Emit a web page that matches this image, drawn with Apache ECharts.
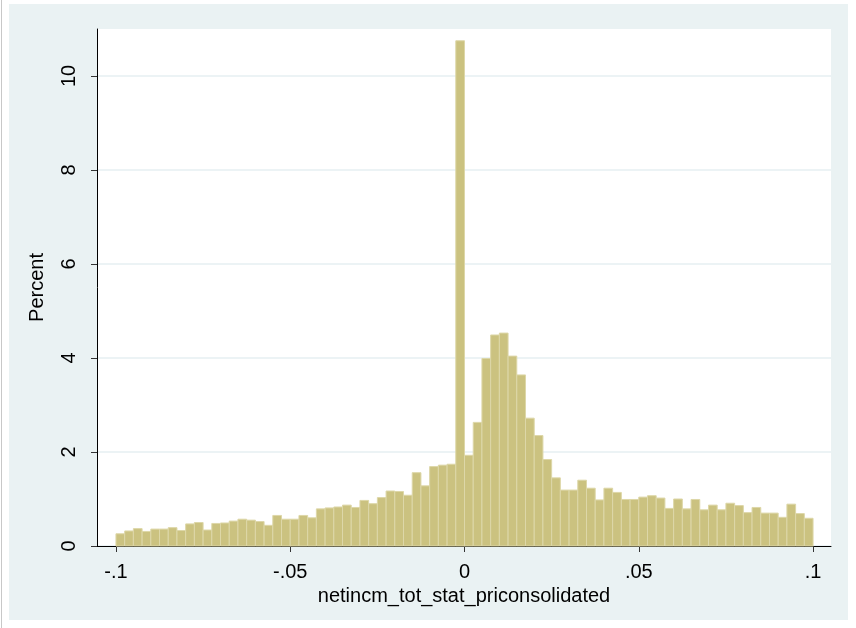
<!DOCTYPE html>
<html>
<head>
<meta charset="utf-8">
<script src="https://cdn.jsdelivr.net/npm/echarts@6/dist/echarts.min.js"></script>
<style>
  html, body { margin: 0; padding: 0; background: #fff; }
  #chart { width: 856px; height: 628px; }
</style>
</head>
<body>
<div id="chart"></div>
<script>
// histogram: 80 bins of width .0025 from -.1 to .1
const binStart = -0.1
const binWidth = 0.0025
const percent = [
  0.26, 0.32, 0.37, 0.31, 0.36, 0.36, 0.39, 0.33, 0.47, 0.50, 0.34, 0.48, 0.49, 0.53, 0.57, 0.55,
  0.52, 0.44, 0.65, 0.57, 0.57, 0.65, 0.60, 0.79, 0.81, 0.83, 0.87, 0.82, 0.97, 0.90, 1.03, 1.17,
  1.16, 1.08, 1.56, 1.28, 1.69, 1.72, 1.74, 10.75, 1.93, 2.63, 3.99, 4.49, 4.53, 4.04, 3.64, 2.72,
  2.35, 1.84, 1.45, 1.19, 1.19, 1.40, 1.23, 0.98, 1.23, 1.14, 0.99, 0.99, 1.04, 1.07, 1.02, 0.80,
  1.00, 0.79, 0.99, 0.77, 0.87, 0.77, 0.91, 0.86, 0.71, 0.82, 0.70, 0.70, 0.61, 0.89, 0.69, 0.59
]
const xTickValues = [-0.1, -0.05, 0, 0.05, 0.1]
const xTickLabels = ['-.1', '-.05', '0', '.05', '.1']
const yTickValues = [0, 2, 4, 6, 8, 10]
const xTitle = 'netincm_tot_stat_priconsolidated'
const yTitle = 'Percent'

const bins = percent.map((v, i) => [binStart + i * binWidth, binStart + (i + 1) * binWidth, v])

const font = 'Liberation Sans, Arial, sans-serif'
const chart = echarts.init(document.getElementById('chart'))

chart.setOption({
  backgroundColor: '#fff',
  animation: false,
  graphic: [
    {
      type: 'rect',
      z: -10,
      shape: { x: 9, y: 4, width: 839, height: 616 },
      style: { fill: '#eaf2f3' }
    },
    {
      type: 'line',
      z: -10,
      shape: { x1: 1.5, y1: 0, x2: 1.5, y2: 628 },
      style: { stroke: '#c8c8c8', lineWidth: 1 }
    }
  ],
  grid: {
    left: 97,
    right: 25,
    top: 29,
    bottom: 82,
    show: true,
    backgroundColor: '#fff',
    borderWidth: 0
  },
  xAxis: {
    type: 'value',
    min: -0.10544,
    max: 0.10515,
    name: xTitle,
    nameLocation: 'middle',
    nameGap: 38,
    nameTextStyle: { fontFamily: font, fontSize: 20, color: '#000' },
    axisLine: { show: true, onZero: false, lineStyle: { color: '#000', width: 1 } },
    axisTick: { show: true, length: 6, customValues: xTickValues, lineStyle: { color: '#333' } },
    axisLabel: {
      customValues: xTickValues,
      margin: 16,
      fontFamily: font,
      fontSize: 20,
      color: '#000',
      formatter: function (v) {
        const i = xTickValues.findIndex(t => Math.abs(t - v) < 1e-9)
        return i >= 0 ? xTickLabels[i] : ''
      }
    },
    splitLine: { show: false }
  },
  yAxis: {
    type: 'value',
    min: 0,
    max: 11,
    interval: 2,
    name: yTitle,
    nameLocation: 'middle',
    nameGap: 50,
    nameRotate: 90,
    nameTextStyle: { fontFamily: font, fontSize: 20, color: '#000' },
    axisLine: { show: true, onZero: false, lineStyle: { color: '#000', width: 1 } },
    axisTick: { show: true, length: 6, customValues: yTickValues, lineStyle: { color: '#333' } },
    axisLabel: {
      customValues: yTickValues,
      rotate: 90,
      margin: 18,
      fontFamily: font,
      fontSize: 20,
      color: '#000'
    },
    splitLine: { show: true, lineStyle: { color: '#e6eff2', width: 1.5 } }
  },
  series: [
    {
      type: 'custom',
      data: bins,
      encode: { x: [0, 1], y: 2 },
      renderItem: function (params, api) {
        const p0 = api.coord([api.value(0), api.value(2)])
        const p1 = api.coord([api.value(1), 0])
        return {
          type: 'rect',
          shape: { x: p0[0], y: p0[1], width: p1[0] - p0[0], height: p1[1] - p0[1] },
          style: { fill: '#cbc280', stroke: '#ddd7a8', lineWidth: 1 }
        }
      }
    }
  ]
})
</script>
</body>
</html>
